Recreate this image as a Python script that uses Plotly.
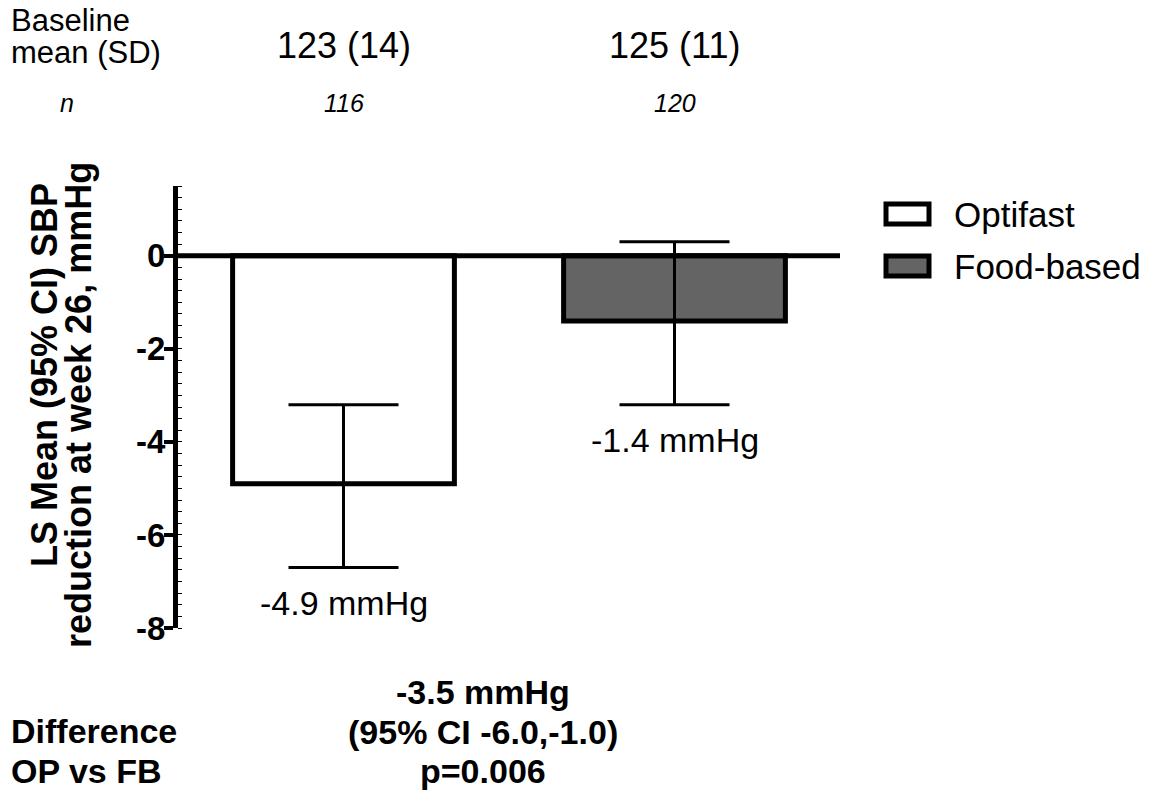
import plotly.graph_objects as go

W, H = 1158, 796
# plot area in pixels
L, R, T, B = 178, 840, 186, 628

groups = ["Optifast", "Food-based"]
means = [-4.9, -1.4]
ci_low = [-6.7, -3.2]
ci_high = [-3.2, 0.3]
fills = ["#ffffff", "#646464"]
baseline = ["123 (14)", "125 (11)"]
ns = ["116", "120"]
value_labels = ["-4.9 mmHg", "-1.4 mmHg"]
y_ticks = [0, -2, -4, -6, -8]
y_title = ["LS Mean (95% CI) SBP", "reduction at week 26, mmHg"]
header_label = ["Baseline", "mean (SD)"]
diff_label = ["Difference", "OP vs FB"]
diff_text = ["-3.5 mmHg", "(95% CI -6.0,-1.0)", "p=0.006"]

FONT = "Arial, Liberation Sans, sans-serif"

def px(x):
    return (x - L) / (R - L)

def py(y):
    return (B - y) / (B - T)

fig = go.Figure()
for i, g in enumerate(groups):
    fig.add_trace(go.Bar(
        x=[i], y=[means[i]], width=0.67, name=g,
        marker=dict(color=fills[i], line=dict(color="black", width=5)),
        error_y=dict(type="data", symmetric=False,
                     array=[ci_high[i] - means[i]],
                     arrayminus=[means[i] - ci_low[i]],
                     color="black", thickness=3, width=55),
        showlegend=False,
    ))

fig.update_layout(
    width=W, height=H,
    margin=dict(l=L, r=W - R, t=T, b=H - B),
    paper_bgcolor="white", plot_bgcolor="white",
    font=dict(family=FONT, color="black"),
    xaxis=dict(range=[-0.5, 1.5], visible=False, fixedrange=True),
    yaxis=dict(range=[-8, 1.5], tickvals=y_ticks, ticktext=[str(t) for t in y_ticks],
               ticks="outside", ticklen=9, tickwidth=4, tickcolor="black",
               showline=True, linewidth=5, linecolor="black",
               showgrid=False, zeroline=False, ticklabelstandoff=-8,
               tickfont=dict(size=33, family=FONT, weight="bold"),
               minor=dict(dtick=0.25, ticks="inside", ticklen=4, tickwidth=1, tickcolor="black")),
    shapes=[dict(type="line", xref="x", yref="y", x0=-0.5, x1=1.5, y0=0, y1=0,
                 line=dict(color="black", width=5), layer="above")],
)

def note(text, x, y, size, xanchor="center", yanchor="middle", xref="paper", yref="paper", **kw):
    return dict(text=text, x=x, y=y, xref=xref, yref=yref, xanchor=xanchor, yanchor=yanchor,
                showarrow=False, font=dict(size=size), **kw)

ann = []
# y title two lines
ann.append(note("<b>%s</b>" % y_title[0], px(44), py(375), 36, textangle=-90))
ann.append(note("<b>%s</b>" % y_title[1], px(78), py(405), 36, textangle=-90))
# header
ann.append(note(header_label[0], px(9), py(20), 31, xanchor="left"))
ann.append(note(header_label[1], px(9), py(53), 31, xanchor="left"))
ann.append(note("<i>n</i>", px(67), py(103), 25))
for i in range(2):
    ann.append(note(baseline[i], i, py(45), 36, xref="x"))
    ann.append(note("<i>%s</i>" % ns[i], i, py(103), 25, xref="x"))
    ann.append(note(value_labels[i], i, ci_low[i], 34, xref="x", yref="y",
                    yanchor="top", yshift=-14))
# legend
for i, g in enumerate(groups):
    yc = 214 + i * 52
    fig.add_shape(type="rect", xref="paper", yref="paper",
                  x0=px(886), x1=px(929), y0=py(yc - 10), y1=py(yc + 10),
                  fillcolor=fills[i], line=dict(color="black", width=5))
    ann.append(note(g, px(952), py(yc), 35, xanchor="left"))
# bottom
ann.append(note("<b>%s</b>" % diff_label[0], px(9), py(731), 34, xanchor="left"))
ann.append(note("<b>%s</b>" % diff_label[1], px(9), py(771), 34, xanchor="left"))
for k, t in enumerate(diff_text):
    ann.append(note("<b>%s</b>" % t, px(483), py(692 + 39.5 * k), 34))
fig.update_layout(annotations=ann)

fig.write_html("out.html")
